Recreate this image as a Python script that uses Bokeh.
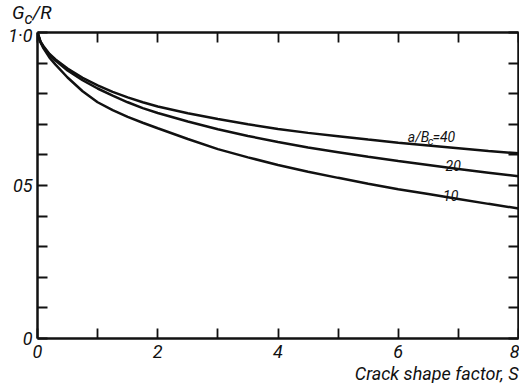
from bokeh.plotting import figure
from bokeh.models import Range1d, LinearAxis, FixedTicker, Label, Title, Div
from bokeh.layouts import column
from bokeh.embed import file_html
from bokeh.resources import INLINE

# ---- data ----
S = [0, 0.05, 0.1, 0.2, 0.3, 0.5, 0.75, 1, 1.25, 1.5, 1.75, 2, 2.5, 3, 3.5, 4,
     4.5, 5, 5.5, 6, 6.5, 7, 7.5, 8]
g40 = [1.0, 0.97, 0.955, 0.93, 0.912, 0.882, 0.852, 0.827, 0.806, 0.788, 0.772, 0.758,
       0.736, 0.717, 0.70, 0.685, 0.672, 0.661, 0.65, 0.64, 0.631, 0.622, 0.613, 0.605]
g20 = [1.0, 0.969, 0.953, 0.927, 0.908, 0.876, 0.844, 0.817, 0.794, 0.772, 0.753, 0.737,
       0.709, 0.684, 0.662, 0.642, 0.624, 0.609, 0.594, 0.58, 0.567, 0.554, 0.542, 0.53]
g10 = [1.0, 0.968, 0.948, 0.918, 0.895, 0.853, 0.808, 0.772, 0.746, 0.724, 0.705, 0.687,
       0.652, 0.619, 0.592, 0.567, 0.545, 0.525, 0.506, 0.488, 0.472, 0.456, 0.44, 0.425]

x_major = [0, 2, 4, 6, 8]
x_minor = [1, 3, 5, 7]
x_labels = {0: "0", 2: "2", 4: "4", 6: "6", 8: "8"}
y_major = [0, 0.5, 1]
y_minor = [0.1, 0.2, 0.3, 0.4, 0.6, 0.7, 0.8, 0.9]
y_labels = {0: "0", 0.5: "05", 1: "1·0"}
x_title = "Crack shape factor, S"
y_title_html = "<i>G<sub>c</sub>/R</i>"

FONT = "Roboto"
BLACK = "#111111"

p = figure(frame_width=481, frame_height=306, output_backend="svg", toolbar_location=None,
           x_range=Range1d(0, 8), y_range=Range1d(0, 1),
           min_border_left=37, min_border_right=1, min_border_top=8, min_border_bottom=0,
           x_axis_location=None, y_axis_location=None)
p.outline_line_color = None
p.xgrid.visible = False
p.ygrid.visible = False
p.background_fill_color = "white"
p.border_fill_color = "white"


def style(ax, ticks, minor, labels, show):
    ax.ticker = FixedTicker(ticks=ticks, minor_ticks=minor)
    ax.axis_line_width = 2.5
    ax.axis_line_color = BLACK
    ax.major_tick_in = 10
    ax.major_tick_out = 0
    ax.minor_tick_in = 10
    ax.minor_tick_out = 0
    ax.major_tick_line_width = 1.8
    ax.minor_tick_line_width = 1.8
    ax.major_tick_line_color = BLACK
    ax.minor_tick_line_color = BLACK
    if show:
        ax.major_label_overrides = labels
        ax.major_label_text_font = FONT
        ax.major_label_text_font_style = "italic"
        ax.major_label_text_font_size = "18px"
        ax.major_label_text_color = BLACK
    else:
        ax.major_label_overrides = {t: "" for t in ticks}
        ax.major_label_text_font_size = "1px"
        ax.major_label_standoff = 0


bottom = LinearAxis()
style(bottom, x_major, x_minor, x_labels, True)
bottom.major_label_standoff = 6
p.add_layout(bottom, "below")

left = LinearAxis()
style(left, y_major, y_minor, y_labels, True)
left.major_label_standoff = 5
p.add_layout(left, "left")

top = LinearAxis()
style(top, x_major, x_minor, {}, False)
p.add_layout(top, "above")

right = LinearAxis()
style(right, y_major, y_minor, {}, False)
p.add_layout(right, "right")

xt = Title(text=x_title, align="right", text_font=FONT, text_font_style="italic",
           text_font_size="18px", text_color=BLACK, standoff=0)
p.add_layout(xt, "below")

for g in (g40, g20, g10):
    p.line(S, g, line_color=BLACK, line_width=2.5)


def lab(x, y, t, size, align="left"):
    p.add_layout(Label(x=x, y=y, text=t, text_font=FONT, text_font_style="italic",
                       text_font_size=size, text_color=BLACK, text_align=align,
                       text_baseline="alphabetic"))


# curve labels
lab(6.16, 0.657, "a/B", "14px")
lab(6.49, 0.645, "c", "11px")
lab(6.57, 0.657, "=40", "14px")
lab(7.04, 0.565, "20", "14px", "right")
lab(7.0, 0.467, "10", "14px", "right")

# y title as real HTML text above the plot
ytitle = Div(text=y_title_html, width=80, height=24, margin=(0, 0, 0, 0),
             styles={"font-family": "Roboto, sans-serif", "font-size": "19px",
                     "color": BLACK, "line-height": "1", "padding-left": "12px",
                     "padding-top": "3px", "box-sizing": "border-box"})

layout = column(ytitle, p, spacing=0)

open("out.html", "w").write(file_html(layout, INLINE))
